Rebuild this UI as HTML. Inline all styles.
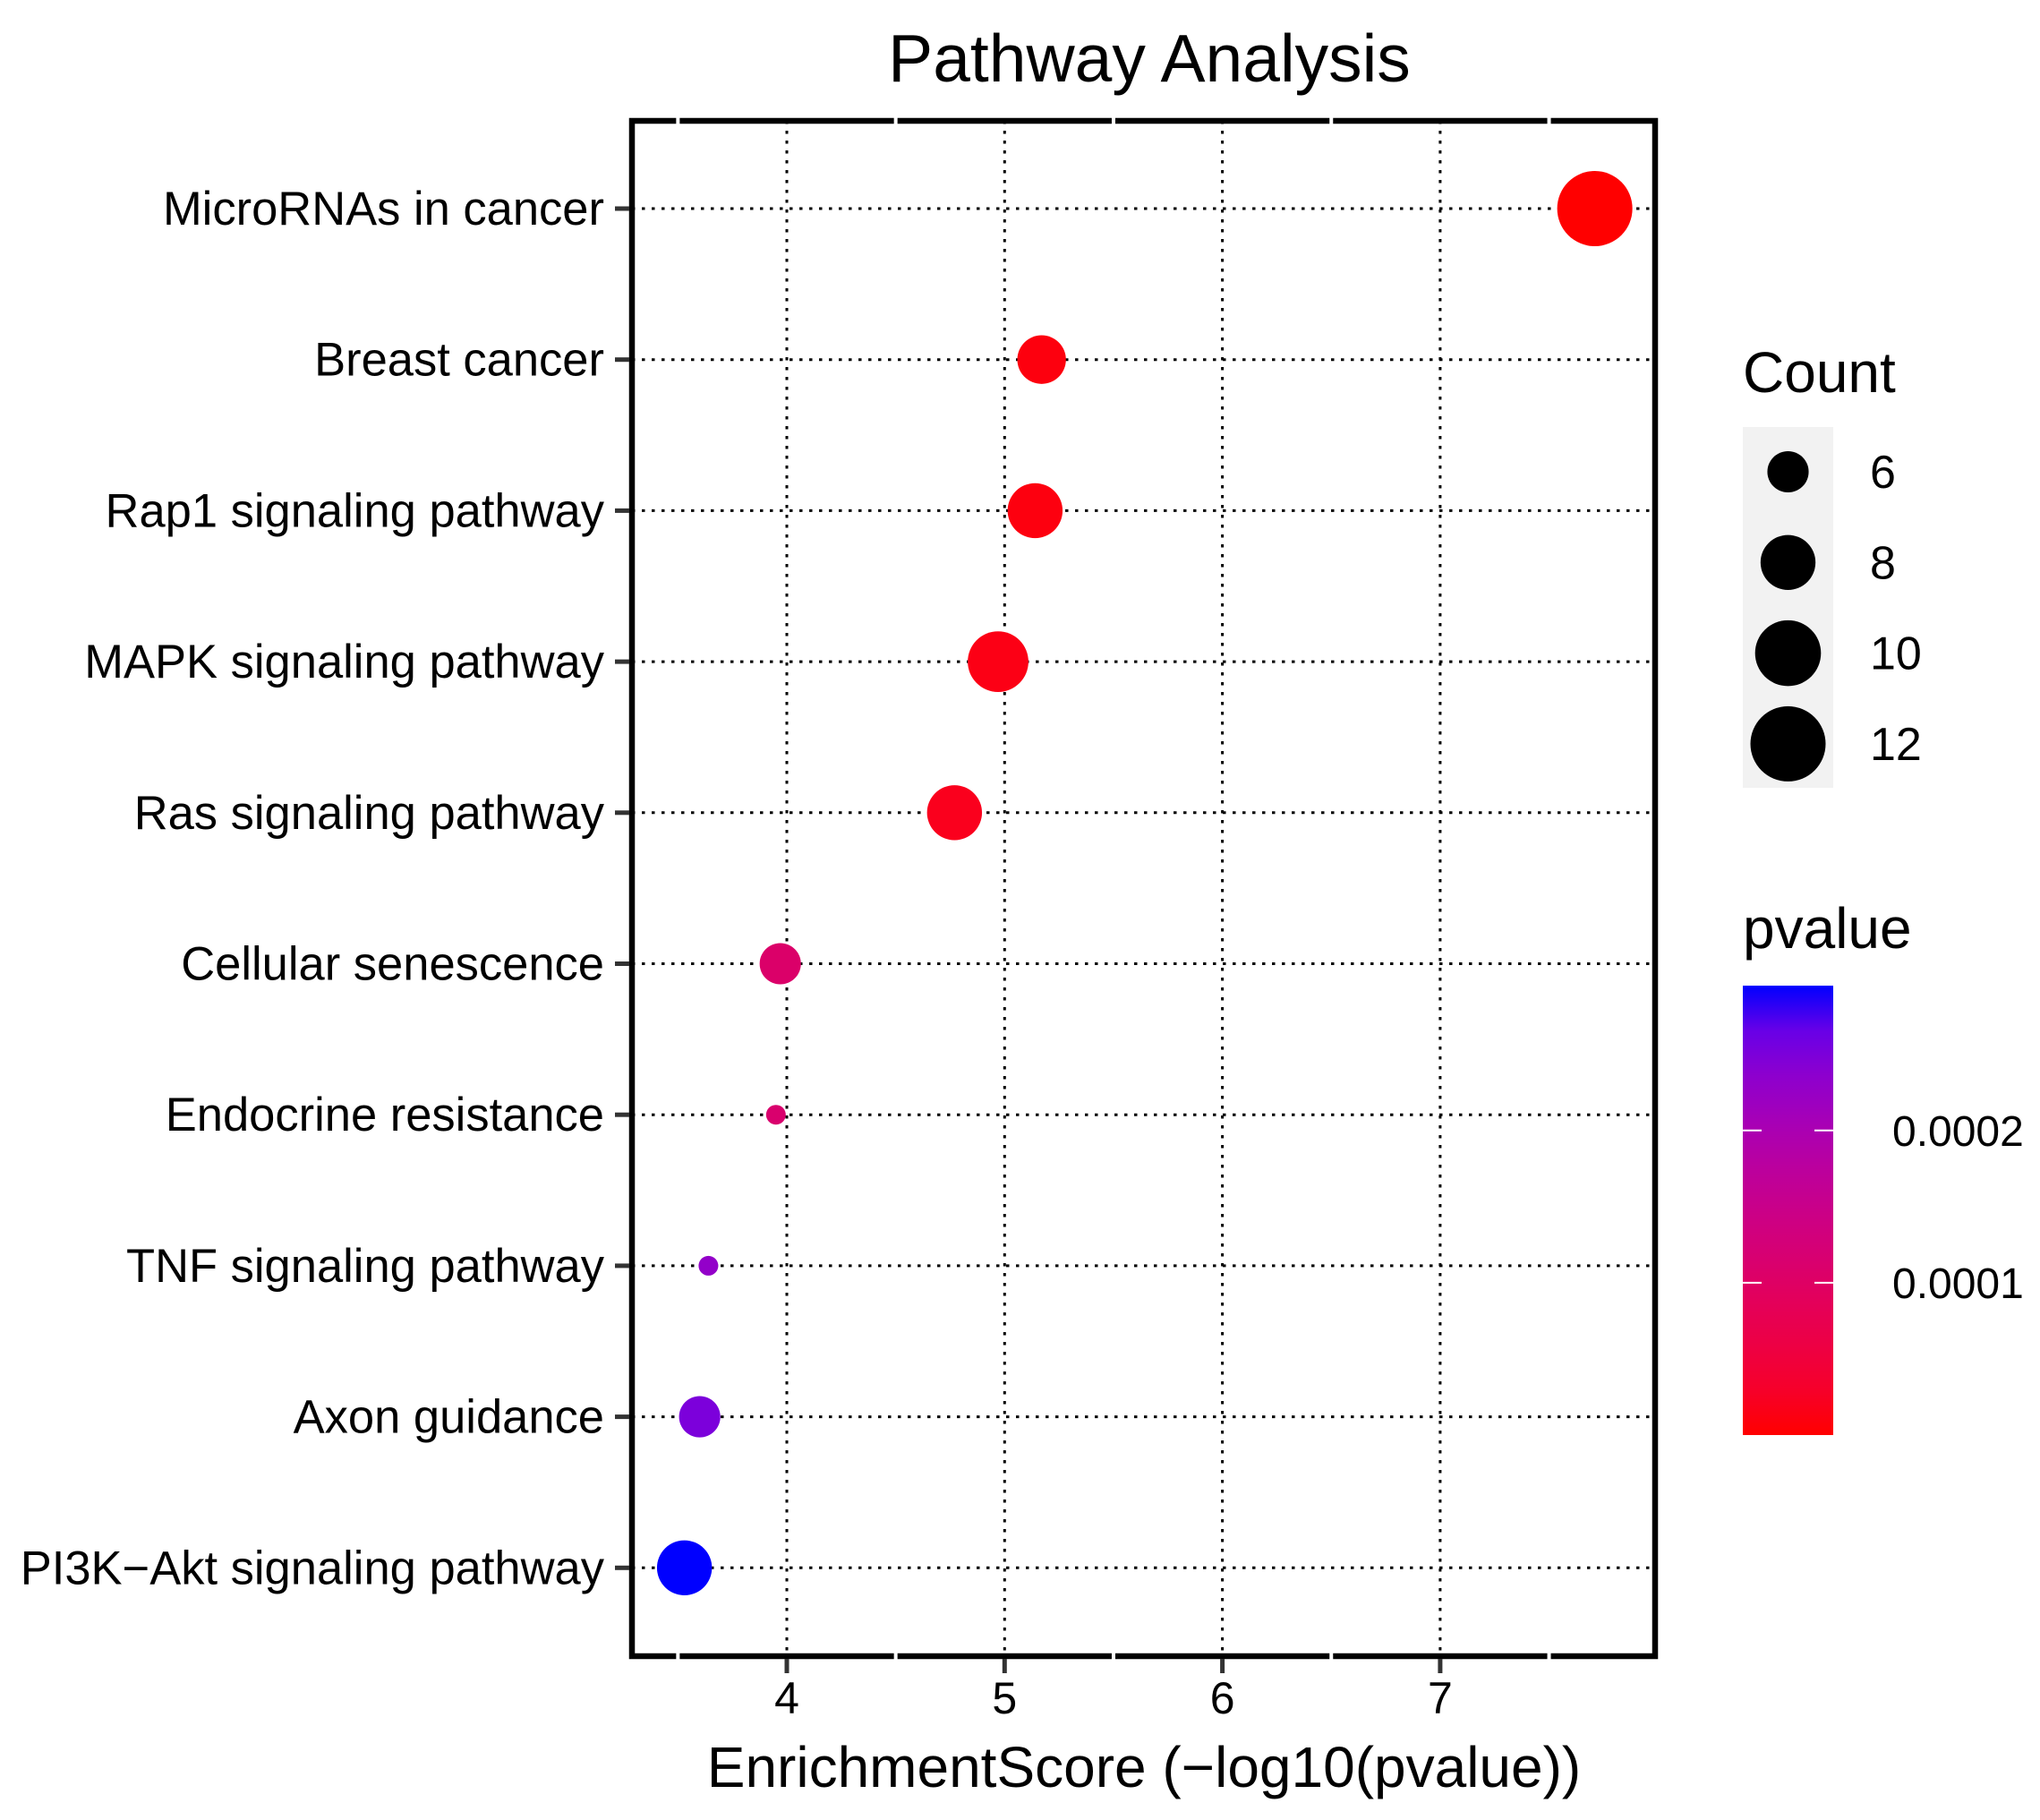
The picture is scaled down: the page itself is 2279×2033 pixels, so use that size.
<!DOCTYPE html>
<html><head><meta charset="utf-8"><style>
html,body{margin:0;padding:0;background:#fff;}
svg{display:block;font-family:"Liberation Sans",Arial,sans-serif;}
</style></head><body>
<svg id="chart" width="2279" height="2033" viewBox="0 0 2279 2033" xmlns="http://www.w3.org/2000/svg">
<rect x="0" y="0" width="2279" height="2033" fill="#fff"/>
<text x="1284" y="91" font-size="75" text-anchor="middle">Pathway Analysis</text>
<g id="grid"></g><g id="marks"></g><g id="frame"></g><g id="axes"></g><g id="legend"></g>
<defs><linearGradient id="pgrad" x1="0" y1="1" x2="0" y2="0"></linearGradient></defs>
</svg>
<script>
const pathways = ["MicroRNAs in cancer","Breast cancer","Rap1 signaling pathway","MAPK signaling pathway","Ras signaling pathway","Cellular senescence","Endocrine resistance","TNF signaling pathway","Axon guidance","PI3K\u2212Akt signaling pathway"];
const scores = [7.71,5.17,5.14,4.97,4.77,3.97,3.95,3.64,3.60,3.53];
const counts = [12,7,8,9,8,6,4,4,6,8];
const xTicks = [4,5,6,7];
const sizeBreaks = [6,8,10,12];
const pTicks = [0.0001,0.0002];
const pTickLabels = ["0.0001","0.0002"];

const NS="http://www.w3.org/2000/svg";
function mk(tag,attrs,parent){const e=document.createElementNS(NS,tag);for(const k in attrs)e.setAttribute(k,attrs[k]);parent.appendChild(e);return e;}
const PL=706,PR=1849,PT=135,PB=1850;
const x4=879,unit=243.3;
function xs(v){return x4+(v-4)*unit;}
const row0=233,rowStep=168.7;
function ys(i){return row0+i*rowStep;}
function diam(c){return Math.sqrt(Math.max(100,821.5*c-2802));}
function srgb2lin(c){c/=255;return c<=0.04045?c/12.92:Math.pow((c+0.055)/1.055,2.4);}
function lin2srgb(c){c=c<=0.0031308?12.92*c:1.055*Math.pow(c,1/2.4)-0.055;return Math.round(Math.min(1,Math.max(0,c))*255);}
function toLab(r,g,b){r=srgb2lin(r);g=srgb2lin(g);b=srgb2lin(b);
let X=(0.4124*r+0.3576*g+0.1805*b)/0.95047,Y=(0.2126*r+0.7152*g+0.0722*b),Z=(0.0193*r+0.1192*g+0.9505*b)/1.08883;
const f=t=>t>0.008856?Math.cbrt(t):7.787*t+16/116;X=f(X);Y=f(Y);Z=f(Z);return [116*Y-16,500*(X-Y),200*(Y-Z)];}
function fromLab(L,a,b){let Y=(L+16)/116,X=a/500+Y,Z=Y-b/200;const fi=t=>t*t*t>0.008856?t*t*t:(t-16/116)/7.787;
X=fi(X)*0.95047;Y=fi(Y);Z=fi(Z)*1.08883;
const r=3.2406*X-1.5372*Y-0.4986*Z,g=-0.9689*X+1.8758*Y+0.0415*Z,bb=0.0557*X-0.2040*Y+1.0570*Z;
return "rgb("+lin2srgb(r)+","+lin2srgb(g)+","+lin2srgb(bb)+")";}
const labLo=toLab(255,0,0),labHi=toLab(0,0,255);
function colAt(t){return fromLab(labLo[0]+(labHi[0]-labLo[0])*t,labLo[1]+(labHi[1]-labLo[1])*t,labLo[2]+(labHi[2]-labLo[2])*t);}
const pvals=scores.map(s=>Math.pow(10,-s));
const pMin=Math.min(...pvals),pMax=Math.max(...pvals);
function pt(p){return (p-pMin)/(pMax-pMin);}

const grid=document.getElementById('grid');
xTicks.forEach(v=>{const l=mk('line',{x1:xs(v),x2:xs(v),y1:PT,y2:PB,stroke:'#000','stroke-width':3,'stroke-dasharray':'3.5 7.5'},grid);

});
pathways.forEach((n,i)=>{const l=mk('line',{x1:PL,x2:PR,y1:ys(i),y2:ys(i),stroke:'#000','stroke-width':3,'stroke-dasharray':'3.5 7.5'},grid);

});

const marks=document.getElementById('marks');
pathways.forEach((n,i)=>{const c=mk('circle',{cx:xs(scores[i]),cy:ys(i),r:diam(counts[i])/2,fill:colAt(pt(pvals[i]))},marks);

});

const frame=document.getElementById('frame');
const fr=mk('rect',{x:PL,y:PT,width:PR-PL,height:PB-PT,fill:'none',stroke:'#000','stroke-width':6.5},frame);


[3.5,4.5,5.5,6.5,7.5].forEach(v=>{
const a=mk('line',{x1:xs(v),x2:xs(v),y1:PT-4,y2:PT+4,stroke:'#fff','stroke-width':4},frame);


const b=mk('line',{x1:xs(v),x2:xs(v),y1:PB-4,y2:PB+4,stroke:'#fff','stroke-width':4},frame);

});

const axes=document.getElementById('axes');
xTicks.forEach(v=>{
const t=mk('line',{x1:xs(v),x2:xs(v),y1:PB+3,y2:PB+19,stroke:'#333','stroke-width':5},axes);


const l=mk('text',{x:xs(v),y:1914,'font-size':50,'text-anchor':'middle'},axes);l.textContent=v;

});
pathways.forEach((n,i)=>{
const t=mk('line',{x1:PL-19,x2:PL-3,y1:ys(i),y2:ys(i),stroke:'#333','stroke-width':5},axes);


const l=mk('text',{x:675,y:ys(i)+18,'font-size':52.5,'text-anchor':'end'},axes);l.textContent=n;

});
const xt=mk('text',{x:1278,y:1996,'font-size':64,'text-anchor':'middle'},axes);xt.textContent="EnrichmentScore (\u2212log10(pvalue))";



const LX=1947;
const lg=document.getElementById('legend');
const ct=mk('text',{x:LX,y:438,'font-size':64},lg);ct.textContent="Count";


const kb=mk('rect',{x:LX,y:477,width:101,height:403,fill:'#f2f2f2'},lg);


sizeBreaks.forEach((s,i)=>{const cy=527+i*101.3;
const c=mk('circle',{cx:LX+50.5,cy:cy,r:diam(s)/2,fill:'#000'},lg);


const t=mk('text',{x:2089,y:cy+18,'font-size':52},lg);t.textContent=s;

});
const pt2=mk('text',{x:LX,y:1059,'font-size':64},lg);pt2.textContent="pvalue";


const grad=document.getElementById('pgrad');
for(let k=0;k<=10;k++){mk('stop',{offset:(k/10),'stop-color':colAt(k/10)},grad);}
const BT=1106,BB=1608;
const bar=mk('rect',{x:LX,y:BT-5,width:101,height:BB-BT,fill:'url(#pgrad)'},lg);


pTicks.forEach((p,i)=>{const y=BB-5-pt(p)*(BB-BT);
const a=mk('line',{x1:LX,x2:LX+21,y1:y,y2:y,stroke:'#fff','stroke-width':2},lg);


const b=mk('line',{x1:LX+80,x2:LX+101,y1:y,y2:y,stroke:'#fff','stroke-width':2},lg);


const t=mk('text',{x:2114,y:y+17,'font-size':48},lg);t.textContent=pTickLabels[i];

});
</script>
</body></html>
